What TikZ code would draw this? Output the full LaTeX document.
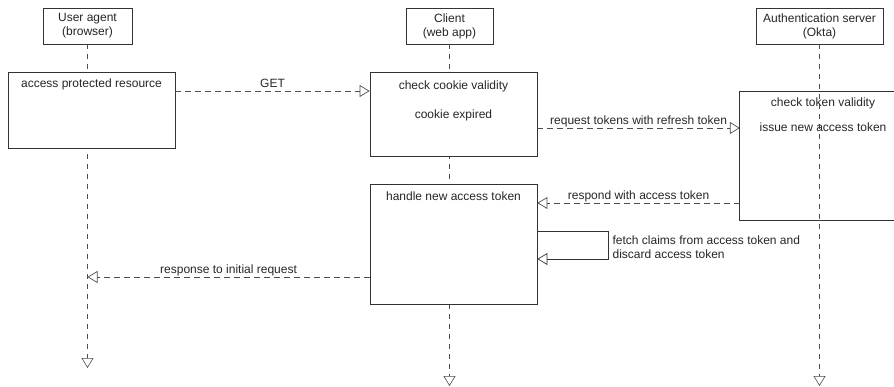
\documentclass[tikz,border=0pt]{standalone}
\usepackage{fontspec}
\setmainfont{Liberation Sans}
\usetikzlibrary{arrows.meta,calc}
\begin{document}
\begin{tikzpicture}[x=1pt,y=-1pt,
  every node/.style={font=\fontsize{12}{14}\selectfont, text=black!85},
  head/.style={draw=black!80, line width=0.8pt, fill=white, minimum height=36pt, inner sep=2pt, align=center},
  act/.style={draw=black!80, line width=0.8pt, fill=white, minimum width=167pt, inner sep=0pt},
  actopen/.style={inner sep=0pt},
  boxline/.style={draw=black!80, line width=0.8pt},
  txt/.style={inner sep=0pt, text height=9pt, text depth=2.5pt},
  life/.style={draw=black!70, line width=0.6pt, dash pattern=on 5pt off 5pt, -{Triangle[open, length=10pt, width=12pt]}},
  msg/.style={draw=black!70, line width=0.7pt, dash pattern=on 6pt off 4pt, -{Triangle[open, length=10pt, width=12pt]}},
  selfmsg/.style={draw=black!80, line width=0.7pt, -{Triangle[open, length=10pt, width=12pt]}},
  lbl/.style={above, inner sep=1pt, text height=9pt, text depth=2.5pt}]
\useasboundingbox (0,0) rectangle (894,387);

% headers
\node[head, minimum width=89pt] (ua) at (87.5,26) {User agent\\(browser)};
\node[head, minimum width=87pt] (cl) at (449.5,26) {Client\\(web app)};
\node[head, minimum width=127pt] (as) at (819.5,26) {Authentication server\\(Okta)};

% lifeline ends
\coordinate (uaend) at (87.5,368);
\coordinate (clend) at (449.5,386);
\coordinate (asend) at (819.5,386);

% lifelines
\draw[life] (ua.south) -- (uaend);
\draw[life] (cl.south) -- (clend);
\draw[life] (as.south) -- (asend);

% activation boxes
\node[act, minimum height=76pt] (acc) at (91.5,110) {};
\node[act, minimum height=84pt] (chk) at (453.5,114) {};
\node[actopen, minimum width=240pt, minimum height=128pt] (aut) at (860,156) {};
\draw[boxline] (aut.north east) -- (aut.north west) -- (aut.south west) -- (aut.south east);
\node[act, minimum height=120pt] (hnd) at (453.5,244) {};

% box texts
\node[txt] (tacc) at (91.5,84) {access protected resource};
\node[txt] (tchk1) at (453.5,86) {check cookie validity};
\node[txt] (tchk2) at (453.5,115) {cookie expired};
\node[txt] (taut1) at (823,103) {check token validity};
\node[txt] (taut2) at (823,128) {issue new access token};
\node[txt] (thnd) at (453.5,197) {handle new access token};

% messages
\draw[msg] (acc.east |- 0,91) -- node[lbl] (lget) {GET} (chk.west |- 0,91);
\draw[msg] (chk.east |- 0,128) -- node[lbl] (lreq) {request tokens with refresh token} (aut.west |- 0,128);
\draw[msg] (aut.west |- 0,203) -- node[lbl] (lresp) {respond with access token} (hnd.east |- 0,203);
\draw[selfmsg] (hnd.east |- 0,231) -- ++(71,0) coordinate (sc) |- (hnd.east |- 0,259);
\node[anchor=west, align=left, inner sep=0pt] (lself) at ($(sc)+(4,16)$) {fetch claims from access token and\\discard access token};
\draw[msg] (hnd.west |- 0,277) -- node[lbl] (lret) {response to initial request} (ua.south |- 0,277);
\end{tikzpicture}
\end{document}
